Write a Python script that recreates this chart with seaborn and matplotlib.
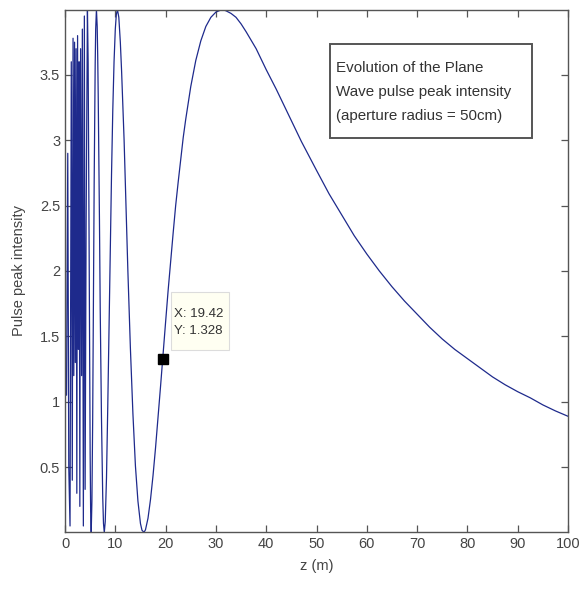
import matplotlib
matplotlib.use("Agg")
import matplotlib.pyplot as plt
from matplotlib.patches import Rectangle
import seaborn as sns
import pandas as pd

# values
z_m = [0.3, 0.55, 0.75, 1.0, 1.25, 1.45, 1.6, 1.75, 1.9, 2.05, 2.2, 2.35, 2.5, 2.65,
       2.8, 2.95, 3.1, 3.3, 3.45, 3.65, 3.85, 4.0, 4.2, 4.46, 4.6, 4.75, 4.9, 5.0,
       5.1, 5.21, 5.35, 5.5, 5.65, 5.8, 5.9, 6.0, 6.1, 6.25, 6.4, 6.5, 6.6, 6.75,
       6.85, 7.0, 7.25, 7.5, 7.65, 7.81, 8.0, 8.25, 8.5, 8.75, 9.0, 9.25, 9.5, 9.75,
       10.0, 10.2, 10.42, 10.7, 11.0, 11.25, 11.5, 11.75, 12.0, 12.5, 13.0, 13.5,
       14.0, 14.5, 15.0, 15.3, 15.7, 16.0, 16.5, 17.0, 17.5, 18.0, 18.5, 19.0, 19.42,
       20.0, 20.5, 21.0, 21.5, 22.0, 22.5, 23.0, 23.5, 24.0, 25.0, 26.0, 27.0, 28.0,
       29.0, 30.0, 31.25, 32.0, 33.0, 34.0, 35.0, 36.0, 38.0, 40.0, 42.0, 44.0, 47.0,
       50.0, 52.5, 55.0, 57.5, 60.0, 62.5, 65.0, 67.5, 70.0, 72.5, 75.0, 77.5, 80.0,
       82.5, 85.0, 87.5, 90.0, 92.5, 95.0, 97.5, 100.0]
intensity = [1.05, 2.9, 0.5, 0.05, 3.6, 0.4, 3.78, 1.2, 3.75, 1.3, 3.7, 0.3, 3.8, 1.4,
             3.6, 0.2, 3.7, 1.2, 3.85, 0.05, 3.95, 0.33, 2.36, 4.0, 3.60, 2.53, 1.26, 0.60,
             0.16, 0.0, 0.24, 0.85, 1.79, 2.68, 3.18, 3.58, 3.85, 4.0, 3.87, 3.65, 3.35, 2.80,
             2.39, 1.71, 0.88, 0.272, 0.07, 0.0, 0.084, 0.42, 0.96, 1.55, 2.15, 2.74, 3.23, 3.60,
             3.85, 3.96, 4.0, 3.94, 3.75, 3.53, 3.26, 3.0, 2.66, 2.0, 1.41, 0.91,
             0.51, 0.24, 0.069, 0.018, 0.001, 0.021, 0.109, 0.253, 0.436, 0.648, 0.88, 1.12, 1.328,
             1.61, 1.85, 2.07, 2.29, 2.50, 2.68, 2.85, 3.02, 3.16, 3.41, 3.61, 3.76, 3.87,
             3.94, 3.98, 4.0, 3.99, 3.97, 3.94, 3.89, 3.83, 3.70, 3.54, 3.39, 3.23, 2.99,
             2.77, 2.59, 2.43, 2.27, 2.13, 2.0, 1.88, 1.77, 1.67, 1.57, 1.48, 1.40, 1.33,
             1.26, 1.19, 1.13, 1.077, 1.03, 0.976, 0.93, 0.889]
x_ticks = [0, 10, 20, 30, 40, 50, 60, 70, 80, 90, 100]
y_ticks = [0.5, 1, 1.5, 2, 2.5, 3, 3.5]
y_tick_labels = ["0.5", "1", "1.5", "2", "2.5", "3", "3.5"]
tip_x = 19.42
tip_y = 1.328
note_text = "Evolution of the Plane\nWave pulse peak intensity\n(aperture radius = 50cm)"

sns.set_style("white")
plt.rcParams['font.family'] = ['Liberation Sans', 'DejaVu Sans']

df = pd.DataFrame({"z": z_m, "I": intensity})

fig = plt.figure(figsize=(5.86, 5.90), dpi=100)
ax = fig.add_axes([65 / 586, 58 / 590, 503 / 586, 522 / 590])

sns.lineplot(data=df, x="z", y="I", ax=ax, color="#1e2a8c", linewidth=0.9,
             estimator=None, sort=False)

ax.set_xlim(0, 100)
ax.set_ylim(0.004, 3.996)
ax.set_xticks(x_ticks)
ax.set_xticklabels([str(t) for t in x_ticks])
ax.set_yticks(y_ticks)
ax.set_yticklabels(y_tick_labels)
ax.tick_params(direction="in", length=5, width=0.9, colors="#555555",
               labelcolor="#444444", labelsize=10.5, top=True, right=True,
               bottom=True, left=True)
for s in ax.spines.values():
    s.set_color("#555555")
    s.set_linewidth(1.0)
    s.set_visible(True)

ax.set_xlabel("z (m)", fontsize=10.5, color="#444444", labelpad=6)
ax.set_ylabel("Pulse peak intensity", fontsize=10.5, color="#444444", labelpad=10)

# data tip
ax.plot([tip_x], [tip_y], marker="s", markersize=7, color="black", linestyle="none")
ax.add_patch(Rectangle((21.07, 1.395), 11.5, 0.444, fc="#fffff2", ec="#dcdcdc",
                       lw=0.8, zorder=3))
ax.text(21.7, 1.606, f"X: {tip_x}\nY: {tip_y}", fontsize=9.5,
        color="#333333", ha="left", va="center", linespacing=1.6, zorder=4)

# annotation box
ax.add_patch(Rectangle((0.527, 0.755), 0.401, 0.180, transform=ax.transAxes,
                       fc="white", ec="#555555", lw=1.4, zorder=3))
ax.text(0.539, 0.843, note_text, transform=ax.transAxes, fontsize=10.9,
        color="#333333", ha="left", va="center", linespacing=1.95, zorder=4)

fig.savefig("out.png", dpi=100)
